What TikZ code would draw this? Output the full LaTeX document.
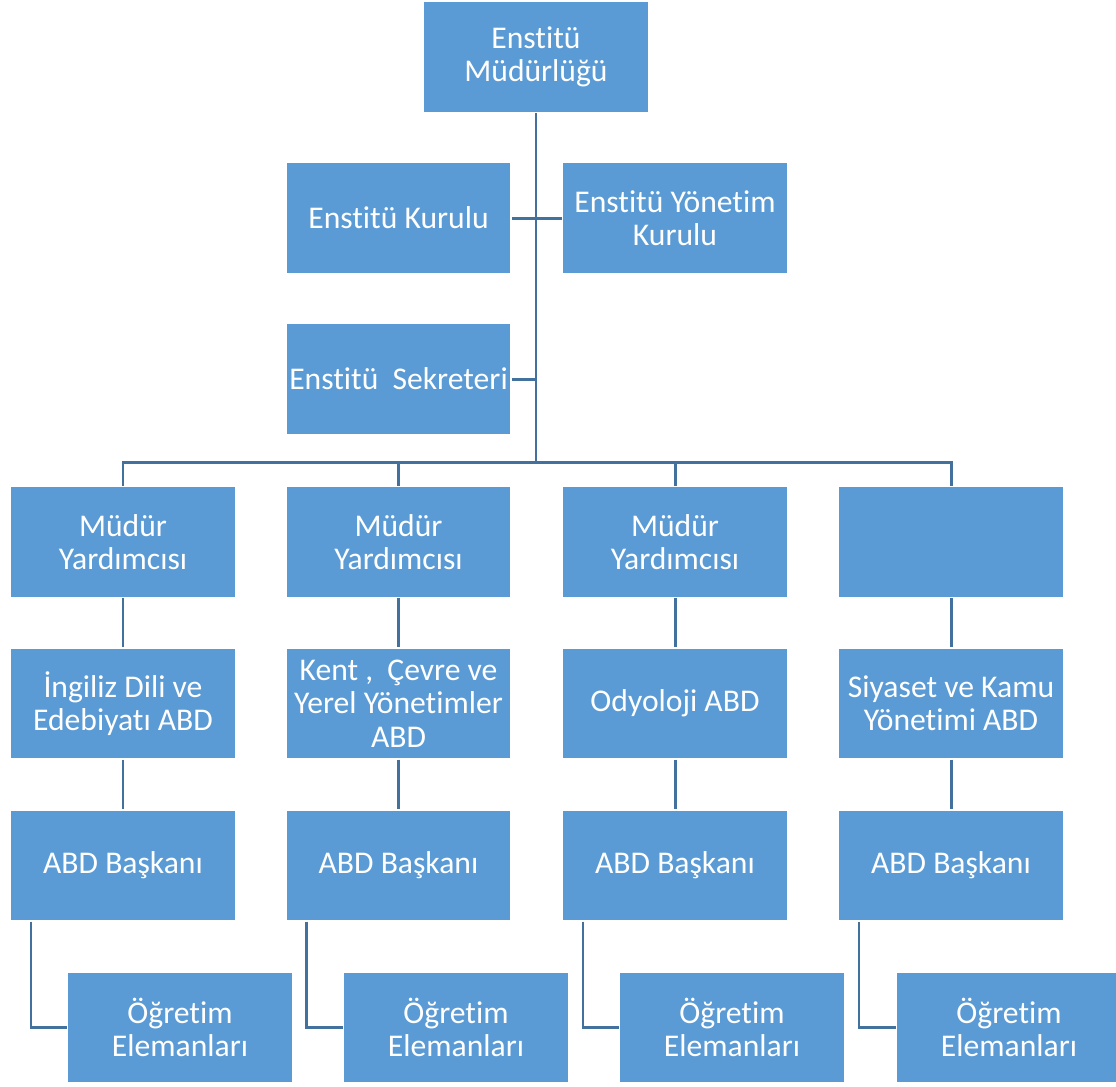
\documentclass[tikz,border=0pt]{standalone}
\usepackage{fontspec}
\setmainfont[Ligatures={NoCommon}]{Carlito}
\definecolor{boxblue}{HTML}{5B9BD5}
\definecolor{linkblue}{HTML}{41719C}
\begin{document}
\begin{tikzpicture}[x=0.02cm,y=-0.02cm,
  orgbox/.style={rectangle, fill=boxblue, draw=white, line width=0.6pt,
    minimum width=4.5cm, minimum height=2.22cm, inner sep=0pt,
    text=white, align=center,
    font=\fontsize{18}{19}\selectfont},
  link/.style={draw=linkblue, line width=1.7pt}]
\useasboundingbox (0,0) rectangle (1116,1086);
\fill[white] (0,0) rectangle (1116,1086);
% top part
\node[orgbox] (top) at (536,57) {Enstitü\\Müdürlüğü};
\node[orgbox] (kur) at (398.5,218) {Enstitü Kurulu};
\node[orgbox] (yon) at (675,218) {Enstitü Yönetim\\Kurulu};
\node[orgbox] (sek) at (398.5,379) {Enstitü\hspace{0.45em}Sekreteri};
% rows
\node[orgbox] (m1) at (123,542) {Müdür\\Yardımcısı};
\node[orgbox] (m2) at (398.5,542) {Müdür\\Yardımcısı};
\node[orgbox] (m3) at (675,542) {Müdür\\Yardımcısı};
\node[orgbox] (m4) at (951,542) {};
\node[orgbox] (a1) at (123,703.5) {İngiliz Dili ve\\Edebiyatı ABD};
\node[orgbox] (a2) at (398.5,703.5) {Kent ,\hspace{0.45em}Çevre ve\\Yerel Yönetimler\\ABD};
\node[orgbox] (a3) at (675,703.5) {Odyoloji ABD};
\node[orgbox] (a4) at (951,703.5) {Siyaset ve Kamu\\Yönetimi ABD};
\node[orgbox] (b1) at (123,865.5) {ABD Başkanı};
\node[orgbox] (b2) at (398.5,865.5) {ABD Başkanı};
\node[orgbox] (b3) at (675,865.5) {ABD Başkanı};
\node[orgbox] (b4) at (951,865.5) {ABD Başkanı};
\node[orgbox] (o1) at (180,1027.5) {Öğretim\\Elemanları};
\node[orgbox] (o2) at (456,1027.5) {Öğretim\\Elemanları};
\node[orgbox] (o3) at (732,1027.5) {Öğretim\\Elemanları};
\node[orgbox] (o4) at (1009,1027.5) {Öğretim\\Elemanları};
% connectors
\coordinate (bus) at (536,462);
\draw[link] (top.south) -- (bus);
\draw[link] (kur.east) -- (yon.west);
\draw[link] (sek.east) -- (sek.east -| top.south);
\draw[link] (m1.north) |- (bus) -| (m4.north);
\draw[link] (m2.north) -- (m2.north |- bus);
\draw[link] (m3.north) -- (m3.north |- bus);
\foreach \i in {1,2,3,4}{
  \draw[link] (m\i.south) -- (a\i.north);
  \draw[link] (a\i.south) -- (b\i.north);
  \draw[link] ([xshift=21*0.02cm]b\i.south west) |- (o\i.west);
}
\end{tikzpicture}
\end{document}
